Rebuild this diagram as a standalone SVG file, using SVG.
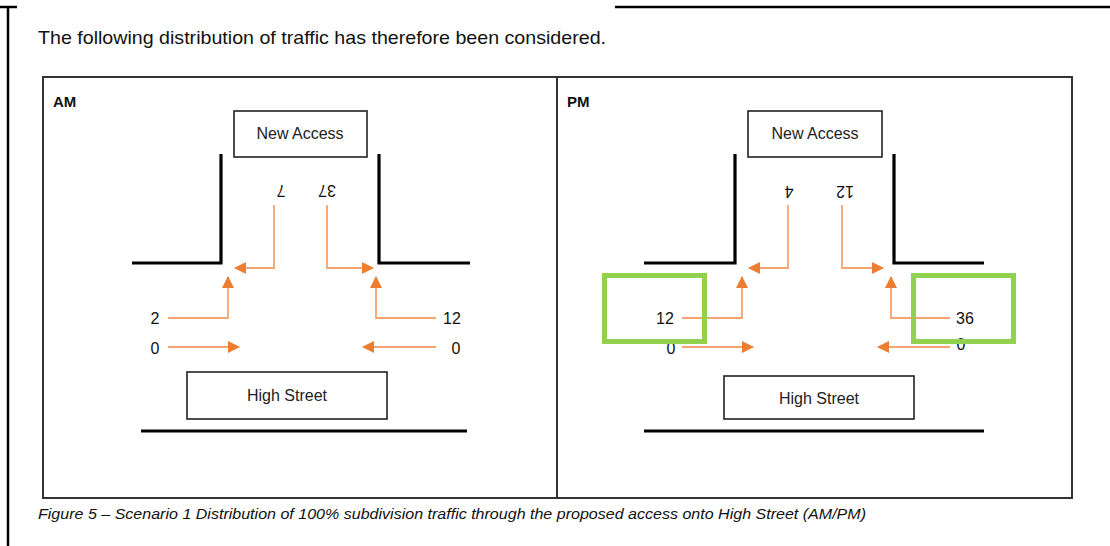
<svg xmlns="http://www.w3.org/2000/svg" width="1110" height="546" viewBox="0 0 1110 546">
<defs>
<style>
.frame{fill:none;stroke:#000;stroke-width:2.5}
.panel{fill:#fff;stroke:#333;stroke-width:2}
.box{fill:#fff;stroke:#222;stroke-width:1.6}
.road{fill:none;stroke:#000;stroke-width:3.2}
.flow{fill:none;stroke:#F5A470;stroke-width:1.8;marker-end:url(#ah)}
.hl{fill:none;stroke:#92D050;stroke-width:5}
.t{font-family:"Liberation Sans",Arial,sans-serif;fill:#111}
.num{font-family:"Liberation Sans",Arial,sans-serif;font-size:16px;fill:#111;text-anchor:middle;dominant-baseline:central}
.lbl{font-family:"Liberation Sans",Arial,sans-serif;font-size:16px;fill:#222;text-anchor:middle;dominant-baseline:central}
</style>
<marker id="ah" viewBox="0 0 12 12" refX="11" refY="6" markerWidth="12" markerHeight="12" markerUnits="userSpaceOnUse" orient="auto">
<path d="M0,0 L12,6 L0,12 Z" fill="#ED7D31"/>
</marker>
</defs>
<rect width="1110" height="546" fill="#fff"/>
<g id="page-frame">
<line class="frame" x1="0" y1="7" x2="17" y2="7"/>
<line class="frame" x1="615" y1="7" x2="1110" y2="7"/>
<line class="frame" x1="8" y1="7" x2="8" y2="546"/>
</g>
<text class="t" x="38" y="44" font-size="19" textLength="568" lengthAdjust="spacingAndGlyphs">The following distribution of traffic has therefore been considered.</text>
<g id="panels">
<rect class="panel" x="43" y="77" width="1029" height="421"/>
<line x1="557" y1="77" x2="557" y2="498" stroke="#333" stroke-width="2"/>
</g>
<g id="am">
<text class="t" x="53" y="107" font-size="15" font-weight="bold">AM</text>
<g id="am-new-access"><rect class="box" x="234" y="111" width="133" height="46"/><text class="lbl" x="300" y="133">New Access</text></g>
<g id="am-high-street"><rect class="box" x="187" y="372" width="200" height="47"/><text class="lbl" x="287" y="395">High Street</text></g>
<g id="am-roads">
<polyline class="road" points="221,154 221,263 132,263"/>
<polyline class="road" points="379,154 379,263 470,263"/>
<line class="road" x1="141" y1="431" x2="467" y2="431"/>
</g>
<text class="num" transform="rotate(180 281 190)" x="281" y="190">7</text>
<text class="num" transform="rotate(180 327 190)" x="327" y="190">37</text>
<text class="num" x="155" y="318">2</text>
<text class="num" x="155" y="348">0</text>
<text class="num" x="452" y="318">12</text>
<text class="num" x="456" y="348">0</text>
</g>
<g id="pm">
<text class="t" x="567" y="107" font-size="15" font-weight="bold">PM</text>
<g id="pm-new-access"><rect class="box" x="748" y="111" width="134" height="46"/><text class="lbl" x="815" y="133">New Access</text></g>
<g id="pm-high-street"><rect class="box" x="724" y="376" width="190" height="43"/><text class="lbl" x="819" y="398">High Street</text></g>
<g id="pm-roads">
<polyline class="road" points="735,154 735,263 644,263"/>
<polyline class="road" points="894,154 894,263 984,263"/>
<line class="road" x1="644" y1="431" x2="984" y2="431"/>
</g>
<text class="num" transform="rotate(180 789 191)" x="789" y="191">4</text>
<text class="num" transform="rotate(180 845 191)" x="845" y="191">12</text>
<text class="num" x="665" y="318">12</text>
<text class="num" x="671" y="348">0</text>
<text class="num" x="965" y="318">36</text>
<text class="num" x="961" y="344">0</text>
</g>
<g id="connectors">
<polyline class="flow" points="274,205 274,268 235,268"/>
<polyline class="flow" points="327,205 327,268 373,268"/>
<polyline class="flow" points="168,318 228,318 228,277"/>
<line class="flow" x1="168" y1="347" x2="239" y2="347"/>
<polyline class="flow" points="436,318 376,318 376,277"/>
<line class="flow" x1="436" y1="347" x2="363" y2="347"/>
<polyline class="flow" points="788,205 788,268 749,268"/>
<polyline class="flow" points="842,205 842,268 883,268"/>
<polyline class="flow" points="682,318 742,318 742,277"/>
<line class="flow" x1="682" y1="347" x2="753" y2="347"/>
<polyline class="flow" points="950,318 891,318 891,277"/>
<line class="flow" x1="950" y1="347" x2="878" y2="347"/>
</g>
<g id="highlights">
<rect class="hl" x="604.5" y="275.5" width="100" height="66"/>
<rect class="hl" x="913.5" y="275.5" width="100" height="66"/>
</g>
<text class="t" x="38" y="519" font-size="14" font-style="italic" textLength="828" lengthAdjust="spacingAndGlyphs">Figure 5 – Scenario 1 Distribution of 100% subdivision traffic through the proposed access onto High Street (AM/PM)</text>
</svg>
